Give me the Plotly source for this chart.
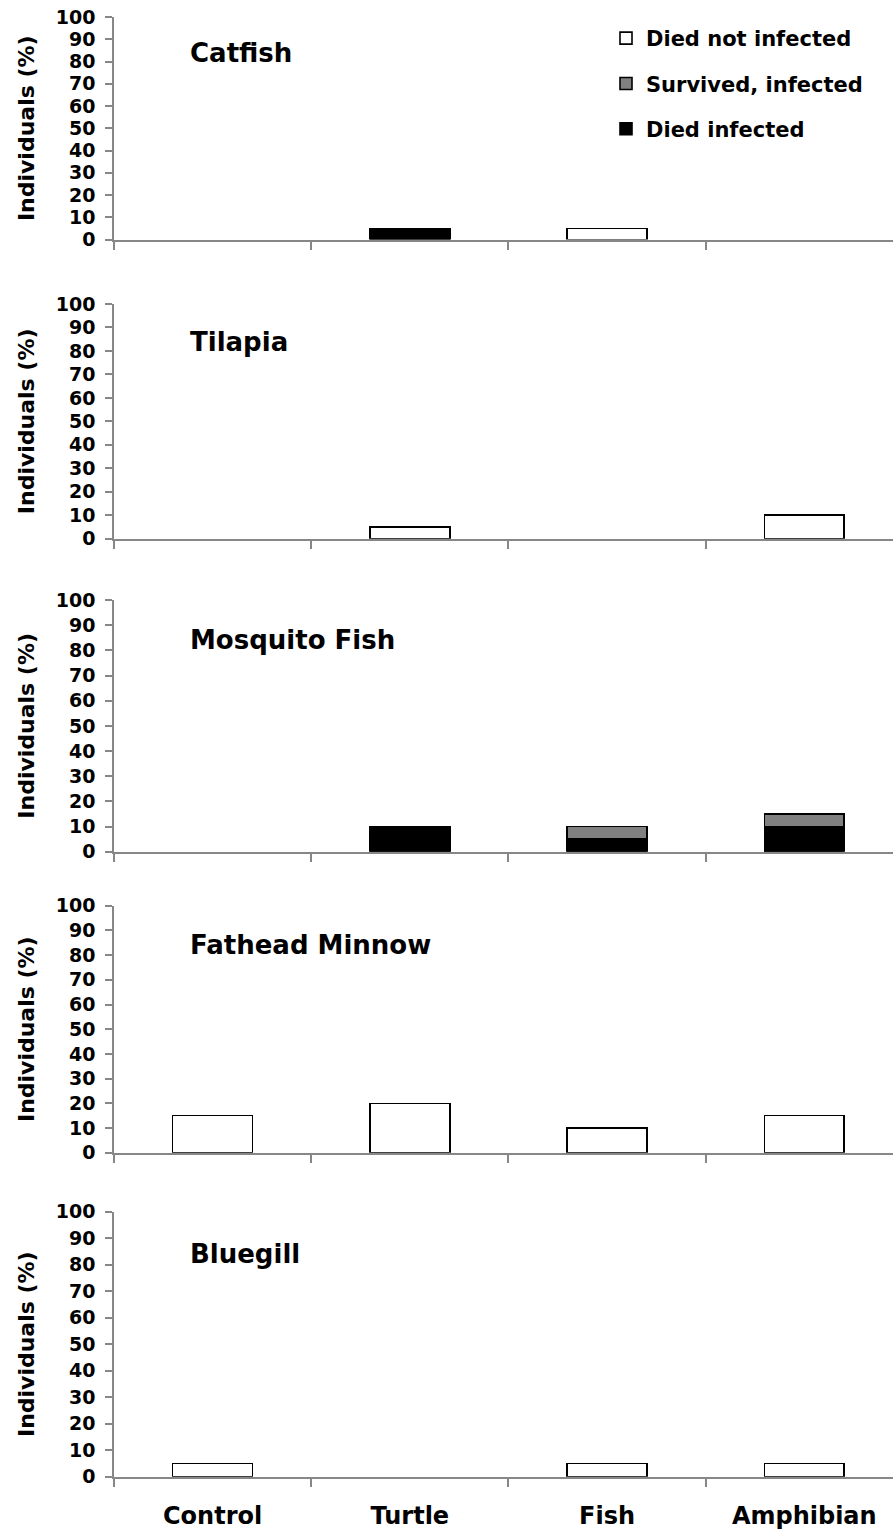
import plotly.graph_objects as go

# Treatments on the x axis and the five host species (one panel each)
categories = ["Control", "Turtle", "Fish", "Amphibian"]
species = ["Catfish", "Tilapia", "Mosquito Fish", "Fathead Minnow", "Bluegill"]

# Percent of individuals per outcome, one row per species (same order as `species`)
died_infected = [
    [0, 5, 0, 0],
    [0, 0, 0, 0],
    [0, 10, 5, 10],
    [0, 0, 0, 0],
    [0, 0, 0, 0],
]
survived_infected = [
    [0, 0, 0, 0],
    [0, 0, 0, 0],
    [0, 0, 5, 5],
    [0, 0, 0, 0],
    [0, 0, 0, 0],
]
died_not_infected = [
    [0, 0, 5, 0],
    [0, 5, 0, 10],
    [0, 0, 0, 0],
    [15, 20, 10, 15],
    [5, 0, 5, 5],
]

y_ticks = list(range(0, 101, 10))

W, H = 893, 1534
FONT = "DejaVu Sans"
AXIS_GREY = "#878787"

# Pixel rows of the 100 and 0 levels of each panel
panel_px = [(17, 239.5), (304, 538.7), (600, 851.7), (905.7, 1152.7), (1211.7, 1476.7)]
x_left_px = 114

outcomes = [
    ("Died infected", died_infected, "#000000", 3),
    ("Survived, infected", survived_infected, "#808080", 2),
    ("Died not infected", died_not_infected, "#ffffff", 1),
]

xpos = list(range(len(categories)))
fig = go.Figure()
layout = dict(
    width=W, height=H,
    margin=dict(l=0, r=0, t=0, b=0, autoexpand=False),
    plot_bgcolor="white", paper_bgcolor="white",
    barmode="stack",
    font=dict(family=FONT, color="black"),
    showlegend=True,
    legend=dict(
        x=606 / W, y=1 - 18 / H, xanchor="left", yanchor="top",
        font=dict(family=FONT, size=21, color="black", weight="bold"),
        tracegroupgap=15, bgcolor="rgba(0,0,0,0)",
        traceorder="grouped",
    ),
)
annotations = []

for i, name in enumerate(species):
    n = i + 1
    xa = "x" if n == 1 else f"x{n}"
    ya = "y" if n == 1 else f"y{n}"
    for label, data, color, rank in outcomes:
        # empty segments are left out so no outline is drawn along the baseline
        vals = [v if v else None for v in data[i]]
        fig.add_trace(go.Bar(
            x=xpos, y=vals, name=label,
            marker=dict(color=color, line=dict(color="black", width=1.6)),
            xaxis=xa, yaxis=ya, width=0.405,
            showlegend=(i == 0), legendgroup=label, legendrank=rank,
        ))
    top_px, bot_px = panel_px[i]
    last = i == len(species) - 1
    layout[f"xaxis{'' if n == 1 else n}"] = dict(
        domain=[x_left_px / W, 1], anchor=ya, automargin=False,
        range=[-0.5, 3.45], showgrid=False, zeroline=False,
        showline=True, linecolor=AXIS_GREY, linewidth=1.5,
        tickmode="array", tickvals=xpos,
        ticktext=categories if last else [""] * len(categories),
        ticks="", showticklabels=last,
        tickfont=dict(family=FONT, size=24, color="black", weight="bold"),
        ticklabelstandoff=17,
        minor=dict(tickmode="array", tickvals=[-0.5, 0.5, 1.5, 2.5],
                   ticks="outside", ticklen=9, tickwidth=1.5, tickcolor=AXIS_GREY),
    )
    layout[f"yaxis{'' if n == 1 else n}"] = dict(
        domain=[1 - bot_px / H, 1 - top_px / H], anchor=xa, automargin=False,
        range=[0, 100], showgrid=False, zeroline=False,
        showline=True, linecolor=AXIS_GREY, linewidth=1.5,
        tickmode="array", tickvals=y_ticks,
        ticks="outside", ticklen=7, tickwidth=1.5, tickcolor=AXIS_GREY,
        tickfont=dict(family=FONT, size=19, color="black", weight="bold"),
        ticklabelstandoff=6,
        title=dict(text="<b>Individuals (%)</b>", font=dict(family=FONT, size=22, color="black")),
    )
    annotations.append(dict(
        text=f"<b>{name}</b>", xref=f"{xa} domain", yref=f"{ya} domain",
        x=(188 - x_left_px) / (W - x_left_px), y=0.84,
        xanchor="left", yanchor="middle", showarrow=False,
        font=dict(family=FONT, size=26, color="black"),
    ))

layout["annotations"] = annotations
fig.update_layout(**layout)
fig.write_html("out.html")
